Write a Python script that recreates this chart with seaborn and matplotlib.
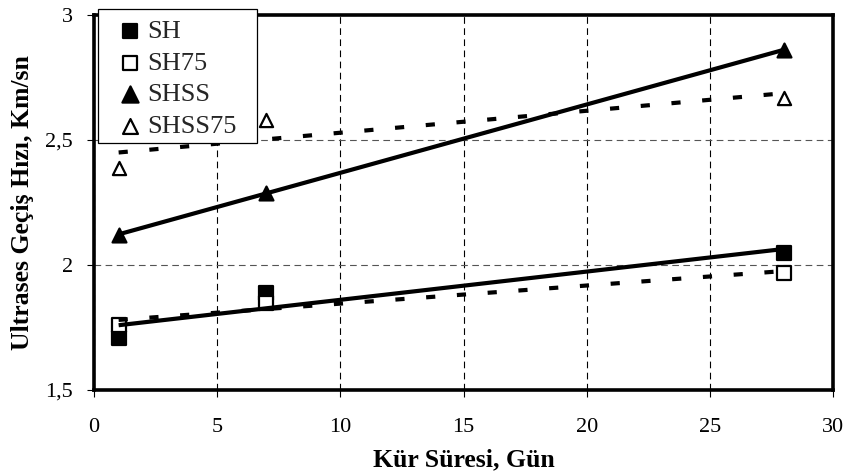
import matplotlib
matplotlib.use("Agg")
import matplotlib.pyplot as plt
import seaborn as sns
import pandas as pd
from matplotlib.ticker import FixedLocator, FixedFormatter
from matplotlib.patches import Rectangle

# ---- data ----
days = [1, 7, 28]
sh = [1.71, 1.89, 2.05]
sh75 = [1.76, 1.85, 1.97]
shss = [2.12, 2.29, 2.86]
shss75 = [2.39, 2.58, 2.67]
series_names = ["SH", "SH75", "SHSS", "SHSS75"]
x_ticks = [0, 5, 10, 15, 20, 25, 30]
y_ticks = [1.5, 2.0, 2.5, 3.0]
y_tick_labels = ["1,5", "2", "2,5", "3"]
x_label = "Kür Süresi, Gün"
y_label = "Ultrases Geçiş Hızı, Km/sn"

sns.set_theme(style="white")
plt.rcParams["font.family"] = ["Liberation Serif", "DejaVu Serif"]

fig = plt.figure(figsize=(8.5, 4.76), dpi=100)
ax = fig.add_axes([94 / 850, 1 - 390 / 476, (833 - 94) / 850, (390 - 15) / 476])

values = [sh, sh75, shss, shss75]
markers = ["s", "s", "^", "^"]
faces = ["black", "white", "black", "white"]
styles = ["-", (0, (2.2, 5.2)), "-", (0, (2.2, 5.2))]
sizes = [90, 90, 100, 90]

handles = []
for name, vals, m, fc, ls, sz in zip(series_names, values, markers, faces, styles, sizes):
    df = pd.DataFrame({"x": days, "y": vals})
    sns.regplot(data=df, x="x", y="y", ax=ax, ci=None, truncate=True,
                marker=m,
                scatter_kws=dict(s=sz, facecolors=fc, edgecolors="black",
                                 linewidths=1.6, alpha=1, zorder=3, label=name),
                line_kws=dict(color="black", lw=3.0, linestyle=ls,
                              solid_capstyle="butt", dash_capstyle="butt", zorder=4))
    handles.append(ax.collections[-1])

ax.set_xlim(0, 30)
ax.set_ylim(1.5, 3.0)
ax.xaxis.set_major_locator(FixedLocator(x_ticks))
ax.set_xticklabels([str(t) for t in x_ticks])
ax.yaxis.set_major_locator(FixedLocator(y_ticks))
ax.yaxis.set_major_formatter(FixedFormatter(y_tick_labels))

ax.xaxis.grid(True, color="black", linestyle=(0, (6, 4)), linewidth=0.8)
ax.yaxis.grid(True, color="#555555", linestyle=(0, (6, 4)), linewidth=0.8)
ax.set_axisbelow(True)

for sp in ax.spines.values():
    sp.set_visible(True)
    sp.set_color("black")
    sp.set_linewidth(2.6)

ax.tick_params(axis="both", which="major", direction="out", length=5, width=0.8,
               color="black", labelsize=16, labelcolor="black",
               bottom=True, left=True)
ax.tick_params(axis="x", pad=15)
ax.tick_params(axis="y", pad=10)

ax.set_xlabel(x_label, fontsize=18.5, fontweight="bold", color="black", labelpad=8)
ax.set_ylabel(y_label, fontsize=18.5, fontweight="bold", color="black", labelpad=8)

# legend box (Excel-like, with extra right padding)
box = Rectangle((98 / 850, 1 - 143 / 476), (257 - 98) / 850, (143 - 9) / 476,
                transform=fig.transFigure, facecolor="white", edgecolor="black",
                linewidth=0.9, zorder=3)
fig.add_artist(box)

leg = fig.legend(handles=handles, labels=series_names, loc="upper left",
                 bbox_to_anchor=(117 / 850, 1 - 19.5 / 476), frameon=False,
                 fontsize=19, handletextpad=0.15, labelspacing=0.31,
                 borderpad=0, handlelength=1.0, borderaxespad=0,
                 scatterpoints=1)
leg.set_zorder(4)
for h, sz in zip(leg.legend_handles, [115, 115, 135, 115]):
    h.set_sizes([sz])

fig.savefig("out.png", dpi=100)
